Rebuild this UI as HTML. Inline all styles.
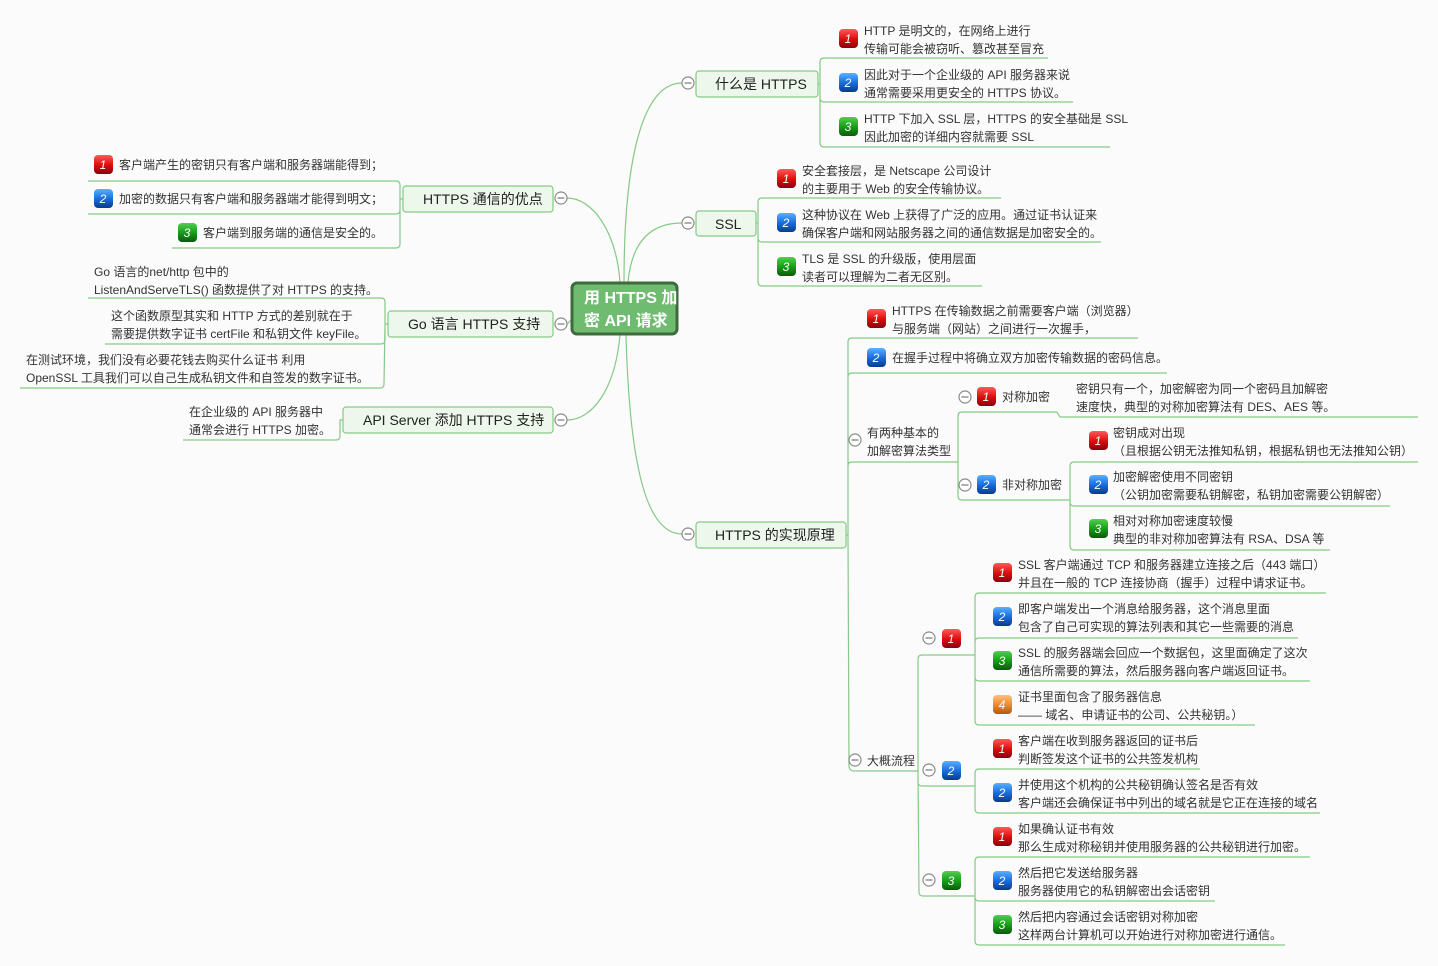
<!DOCTYPE html>
<html><head><meta charset="utf-8"><style>
html,body{margin:0;padding:0;background:#fbfbfb;}
svg{display:block;font-family:"Liberation Sans","Noto Sans CJK SC",sans-serif;}
.t{font-size:12px;fill:#333;}
.tp{font-size:14px;fill:#222;}
.ln{fill:none;stroke:#86c986;stroke-width:1.2;}
.bx{fill:#eef7ec;stroke:#86c986;stroke-width:1.2;}
.cc{fill:#fff;stroke:#8a8a8a;stroke-width:1.2;}
.bn{font-size:12px;fill:#fff;font-style:italic;text-anchor:middle;}
</style></head><body>
<svg width="1438" height="966" viewBox="0 0 1438 966" xmlns="http://www.w3.org/2000/svg">
<defs>
<linearGradient id="r" x1="0" y1="0" x2="0" y2="1"><stop offset="0" stop-color="#ff5a5a"/><stop offset="0.5" stop-color="#e01010"/><stop offset="1" stop-color="#8a0010"/></linearGradient>
<linearGradient id="b" x1="0" y1="0" x2="0" y2="1"><stop offset="0" stop-color="#5ab0ff"/><stop offset="0.5" stop-color="#1a70e0"/><stop offset="1" stop-color="#0a3a8a"/></linearGradient>
<linearGradient id="g" x1="0" y1="0" x2="0" y2="1"><stop offset="0" stop-color="#50d050"/><stop offset="0.5" stop-color="#18a018"/><stop offset="1" stop-color="#0a5a0a"/></linearGradient>
<linearGradient id="o" x1="0" y1="0" x2="0" y2="1"><stop offset="0" stop-color="#ffc080"/><stop offset="0.5" stop-color="#f08a30"/><stop offset="1" stop-color="#b05a10"/></linearGradient>
<g id="cc"><circle cx="0" cy="0" r="6" class="cc"/><line x1="-3.5" y1="0" x2="3.5" y2="0" stroke="#777" stroke-width="1.2"/></g>
</defs>

<!-- main connectors -->
<path class="ln" d="M624,282 C624,150 645,83 682,83"/>
<path class="ln" d="M628,282 C632,240 652,223 682,223"/>
<path class="ln" d="M626,335 C630,480 650,534 682,534"/>
<path class="ln" d="M620,282 C616,230 592,198 567,198"/>
<path class="ln" d="M571,320 C569,322 568,324 567,324"/>
<path class="ln" d="M620,335 C615,390 592,420 567,420"/>

<!-- center -->
<rect x="572" y="283" width="105" height="51" rx="5" fill="#6fbb6f" stroke="#3d6b3d" stroke-width="3"/>
<text x="584" y="303" font-size="16" font-weight="bold" fill="#fff">用 HTTPS 加</text>
<text x="584" y="326" font-size="16" font-weight="bold" fill="#fff">密 API 请求</text>

<!-- Right topic 1 -->
<rect class="bx" x="696" y="71" width="122" height="26" rx="3"/>
<text class="tp" x="715" y="89">什么是 HTTPS</text>
<use href="#cc" x="688" y="83"/>
<path class="ln" d="M818,84 L820,84 M820,84 L820,62 Q820,58 824,58 L1048,58 M820,84 L820,98 Q820,102 824,102 L1073,102 M820,84 L820,143 Q820,147 824,147 L1110,147"/>
<rect x="839" y="29" width="19" height="19" rx="4" fill="url(#r)"/><text class="bn" x="848" y="43">1</text>
<text class="t" x="864" y="35">HTTP 是明文的，在网络上进行</text><text class="t" x="864" y="53">传输可能会被窃听、篡改甚至冒充</text>
<rect x="839" y="73" width="19" height="19" rx="4" fill="url(#b)"/><text class="bn" x="848" y="87">2</text>
<text class="t" x="864" y="79">因此对于一个企业级的 API 服务器来说</text><text class="t" x="864" y="97">通常需要采用更安全的 HTTPS 协议。</text>
<rect x="839" y="117" width="19" height="19" rx="4" fill="url(#g)"/><text class="bn" x="848" y="131">3</text>
<text class="t" x="864" y="123">HTTP 下加入 SSL 层，HTTPS 的安全基础是 SSL</text><text class="t" x="864" y="141">因此加密的详细内容就需要 SSL</text>

<!-- SSL -->
<rect class="bx" x="696" y="211" width="60" height="25" rx="3"/>
<text class="tp" x="715" y="229">SSL</text>
<use href="#cc" x="688" y="223"/>
<path class="ln" d="M756,223 L758,223 M758,223 L758,202 Q758,198 762,198 L1001,198 M758,223 L758,238 Q758,242 762,242 L1101,242 M758,223 L758,282 Q758,286 762,286 L982,286"/>
<rect x="777" y="169" width="19" height="19" rx="4" fill="url(#r)"/><text class="bn" x="786" y="183">1</text>
<text class="t" x="802" y="175">安全套接层，是 Netscape 公司设计</text><text class="t" x="802" y="193">的主要用于 Web 的安全传输协议。</text>
<rect x="777" y="213" width="19" height="19" rx="4" fill="url(#b)"/><text class="bn" x="786" y="227">2</text>
<text class="t" x="802" y="219">这种协议在 Web 上获得了广泛的应用。通过证书认证来</text><text class="t" x="802" y="237">确保客户端和网站服务器之间的通信数据是加密安全的。</text>
<rect x="777" y="257" width="19" height="19" rx="4" fill="url(#g)"/><text class="bn" x="786" y="271">3</text>
<text class="t" x="802" y="263">TLS 是 SSL 的升级版，使用层面</text><text class="t" x="802" y="281">读者可以理解为二者无区别。</text>

<!-- HTTPS 的实现原理 -->
<rect class="bx" x="696" y="522" width="150" height="26" rx="3"/>
<text class="tp" x="715" y="540">HTTPS 的实现原理</text>
<use href="#cc" x="688" y="534"/>
<path class="ln" d="M846,535 L848,535 M848,535 L848,342 Q848,338 852,338 L1138,338 M848,535 L848,377 Q848,373 852,373 L1167,373 M848,535 L848,466 Q848,462 852,462 L957,462 M848,535 L849,767 Q850,771 854,771 L918,771"/>
<rect x="867" y="309" width="19" height="19" rx="4" fill="url(#r)"/><text class="bn" x="876" y="323">1</text>
<text class="t" x="892" y="315">HTTPS 在传输数据之前需要客户端（浏览器）</text><text class="t" x="892" y="333">与服务端（网站）之间进行一次握手，</text>
<rect x="867" y="348" width="19" height="19" rx="4" fill="url(#b)"/><text class="bn" x="876" y="362">2</text>
<text class="t" x="892" y="362">在握手过程中将确立双方加密传输数据的密码信息。</text>
<use href="#cc" x="855" y="440"/>
<text class="t" x="867" y="437">有两种基本的</text><text class="t" x="867" y="455">加解密算法类型</text>
<use href="#cc" x="855" y="760"/>
<text class="t" x="867" y="765">大概流程</text>

<!-- 有两种 children -->
<path class="ln" d="M957,462 L958,462 M958,462 L958,416 Q958,412 962,412 L1057,412 M958,462 L958,496 Q958,500 962,500 L1068,500"/>
<use href="#cc" x="965" y="397"/>
<rect x="977" y="387" width="19" height="19" rx="4" fill="url(#r)"/><text class="bn" x="986" y="401">1</text>
<text class="t" x="1002" y="401">对称加密</text>
<path class="ln" d="M1057,412 L1060,417 L1418,417"/>
<text class="t" x="1076" y="393">密钥只有一个，加密解密为同一个密码且加解密</text><text class="t" x="1076" y="411">速度快，典型的对称加密算法有 DES、AES 等。</text>
<use href="#cc" x="965" y="485"/>
<rect x="977" y="475" width="19" height="19" rx="4" fill="url(#b)"/><text class="bn" x="986" y="489">2</text>
<text class="t" x="1002" y="489">非对称加密</text>
<path class="ln" d="M1068,500 L1070,500 M1070,500 L1070,466 Q1070,462 1074,462 L1418,462 M1070,500 L1070,502 Q1070,506 1074,506 L1390,506 M1070,500 L1070,546 Q1070,550 1074,550 L1330,550"/>
<rect x="1089" y="431" width="19" height="19" rx="4" fill="url(#r)"/><text class="bn" x="1098" y="445">1</text>
<text class="t" x="1113" y="437">密钥成对出现</text><text class="t" x="1113" y="455">（且根据公钥无法推知私钥，根据私钥也无法推知公钥）</text>
<rect x="1089" y="475" width="19" height="19" rx="4" fill="url(#b)"/><text class="bn" x="1098" y="489">2</text>
<text class="t" x="1113" y="481">加密解密使用不同密钥</text><text class="t" x="1113" y="499">（公钥加密需要私钥解密，私钥加密需要公钥解密）</text>
<rect x="1089" y="519" width="19" height="19" rx="4" fill="url(#g)"/><text class="bn" x="1098" y="533">3</text>
<text class="t" x="1113" y="525">相对对称加密速度较慢</text><text class="t" x="1113" y="543">典型的非对称加密算法有 RSA、DSA 等</text>

<!-- 大概流程 children -->
<path class="ln" d="M918,771 L918,659 Q918,655 922,655 L975,655 M918,771 L918,782 Q918,786 922,786 L975,786 M918,771 L919,892 Q919,896 923,896 L975,896"/>
<use href="#cc" x="929" y="638"/>
<rect x="942" y="629" width="19" height="19" rx="4" fill="url(#r)"/><text class="bn" x="951" y="643">1</text>
<use href="#cc" x="929" y="770"/>
<rect x="942" y="761" width="19" height="19" rx="4" fill="url(#b)"/><text class="bn" x="951" y="775">2</text>
<use href="#cc" x="929" y="880"/>
<rect x="942" y="871" width="19" height="19" rx="4" fill="url(#g)"/><text class="bn" x="951" y="885">3</text>

<path class="ln" d="M975,655 L975,597 Q975,593 979,593 L1326,593 M975,655 L975,642 Q975,638 979,638 L1298,638 M975,655 L975,677 Q975,681 979,681 L1310,681 M975,655 L975,721 Q975,725 979,725 L1255,725"/>
<rect x="993" y="563" width="19" height="19" rx="4" fill="url(#r)"/><text class="bn" x="1002" y="577">1</text>
<text class="t" x="1018" y="569">SSL 客户端通过 TCP 和服务器建立连接之后（443 端口）</text><text class="t" x="1018" y="587">并且在一般的 TCP 连接协商（握手）过程中请求证书。</text>
<rect x="993" y="607" width="19" height="19" rx="4" fill="url(#b)"/><text class="bn" x="1002" y="621">2</text>
<text class="t" x="1018" y="613">即客户端发出一个消息给服务器，这个消息里面</text><text class="t" x="1018" y="631">包含了自己可实现的算法列表和其它一些需要的消息</text>
<rect x="993" y="651" width="19" height="19" rx="4" fill="url(#g)"/><text class="bn" x="1002" y="665">3</text>
<text class="t" x="1018" y="657">SSL 的服务器端会回应一个数据包，这里面确定了这次</text><text class="t" x="1018" y="675">通信所需要的算法，然后服务器向客户端返回证书。</text>
<rect x="993" y="695" width="19" height="19" rx="4" fill="url(#o)"/><text class="bn" x="1002" y="709">4</text>
<text class="t" x="1018" y="701">证书里面包含了服务器信息</text><text class="t" x="1018" y="719">—— 域名、申请证书的公司、公共秘钥。）</text>

<path class="ln" d="M975,786 L975,773 Q975,769 979,769 L1200,769 M975,786 L975,809 Q975,813 979,813 L1320,813"/>
<rect x="993" y="739" width="19" height="19" rx="4" fill="url(#r)"/><text class="bn" x="1002" y="753">1</text>
<text class="t" x="1018" y="745">客户端在收到服务器返回的证书后</text><text class="t" x="1018" y="763">判断签发这个证书的公共签发机构</text>
<rect x="993" y="783" width="19" height="19" rx="4" fill="url(#b)"/><text class="bn" x="1002" y="797">2</text>
<text class="t" x="1018" y="789">并使用这个机构的公共秘钥确认签名是否有效</text><text class="t" x="1018" y="807">客户端还会确保证书中列出的域名就是它正在连接的域名</text>

<path class="ln" d="M975,896 L975,861 Q975,857 979,857 L1310,857 M975,896 L975,897 Q975,901 979,901 L1215,901 M975,896 L975,941 Q975,945 979,945 L1285,945"/>
<rect x="993" y="827" width="19" height="19" rx="4" fill="url(#r)"/><text class="bn" x="1002" y="841">1</text>
<text class="t" x="1018" y="833">如果确认证书有效</text><text class="t" x="1018" y="851">那么生成对称秘钥并使用服务器的公共秘钥进行加密。</text>
<rect x="993" y="871" width="19" height="19" rx="4" fill="url(#b)"/><text class="bn" x="1002" y="885">2</text>
<text class="t" x="1018" y="877">然后把它发送给服务器</text><text class="t" x="1018" y="895">服务器使用它的私钥解密出会话密钥</text>
<rect x="993" y="915" width="19" height="19" rx="4" fill="url(#g)"/><text class="bn" x="1002" y="929">3</text>
<text class="t" x="1018" y="921">然后把内容通过会话密钥对称加密</text><text class="t" x="1018" y="939">这样两台计算机可以开始进行对称加密进行通信。</text>

<!-- Left: HTTPS 通信的优点 -->
<rect class="bx" x="403" y="186" width="150" height="26" rx="3"/>
<text class="tp" x="423" y="204">HTTPS 通信的优点</text>
<use href="#cc" x="561" y="198"/>
<path class="ln" d="M403,199 L400,199 M400,199 L400,185 Q400,181 396,181 L88,181 M400,199 L400,210 Q400,214 396,214 L88,214 M400,199 L400,244 Q400,248 396,248 L172,248"/>
<rect x="94" y="155" width="19" height="19" rx="4" fill="url(#r)"/><text class="bn" x="103" y="169">1</text>
<text class="t" x="119" y="169">客户端产生的密钥只有客户端和服务器端能得到；</text>
<rect x="94" y="189" width="19" height="19" rx="4" fill="url(#b)"/><text class="bn" x="103" y="203">2</text>
<text class="t" x="119" y="203">加密的数据只有客户端和服务器端才能得到明文；</text>
<rect x="178" y="223" width="19" height="19" rx="4" fill="url(#g)"/><text class="bn" x="187" y="237">3</text>
<text class="t" x="203" y="237">客户端到服务端的通信是安全的。</text>

<!-- Go -->
<rect class="bx" x="388" y="311" width="165" height="26" rx="3"/>
<text class="tp" x="408" y="329">Go 语言 HTTPS 支持</text>
<use href="#cc" x="561" y="324"/>
<path class="ln" d="M388,324 L385,324 M385,324 L385,302 Q385,298 381,298 L88,298 M385,324 L385,340 Q385,344 381,344 L105,344 M385,324 L384,384 Q384,388 380,388 L20,388"/>
<text class="t" x="94" y="276">Go 语言的net/http 包中的</text><text class="t" x="94" y="294">ListenAndServeTLS() 函数提供了对 HTTPS 的支持。</text>
<text class="t" x="111" y="320">这个函数原型其实和 HTTP 方式的差别就在于</text><text class="t" x="111" y="338">需要提供数字证书 certFile 和私钥文件 keyFile。</text>
<text class="t" x="26" y="364">在测试环境，我们没有必要花钱去购买什么证书 利用</text><text class="t" x="26" y="382">OpenSSL 工具我们可以自己生成私钥文件和自签发的数字证书。</text>

<!-- API Server -->
<rect class="bx" x="343" y="407" width="210" height="26" rx="3"/>
<text class="tp" x="363" y="425">API Server 添加 HTTPS 支持</text>
<use href="#cc" x="561" y="420"/>
<path class="ln" d="M343,420 L340,420 L340,436 Q340,440 336,440 L183,440"/>
<text class="t" x="189" y="416">在企业级的 API 服务器中</text><text class="t" x="189" y="434">通常会进行 HTTPS 加密。</text>
</svg>
</body></html>
